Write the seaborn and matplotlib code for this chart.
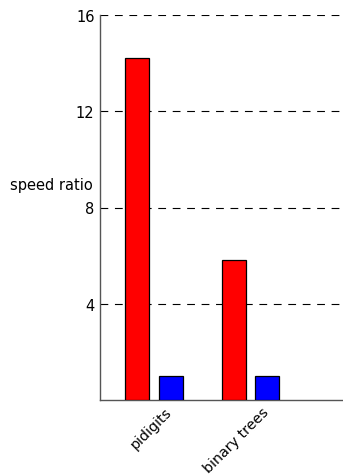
import pandas
import matplotlib
matplotlib.use("Agg")
import matplotlib.pyplot as plt
import matplotlib.transforms as mtrans
import seaborn as sns

# benchmark speed ratios
benchmarks = ["pidigits", "binary trees"]
series = ["fast", "baseline"]
fast_ratio = [14.2, 5.8]
base_ratio = [1.0, 1.0]
yticks = [4, 8, 12, 16]

rows = []
for i, b in enumerate(benchmarks):
    rows.append({"bench": b, "impl": series[0], "ratio": fast_ratio[i]})
    rows.append({"bench": b, "impl": series[1], "ratio": base_ratio[i]})
df = pandas.DataFrame(rows)

sns.set_style("white")
plt.rcParams['font.family'] = ['DejaVu Sans']

fig = plt.figure(figsize=(3.43, 4.77), dpi=100)
ax = fig.add_axes([100 / 343, 76 / 477, 243 / 343, 385 / 477])

sns.barplot(data=df, x="bench", y="ratio", hue="impl", ax=ax,
            palette=["#ff0000", "#0000ff"], saturation=1, width=0.7, gap=0.29,
            edgecolor="black", linewidth=0.9, legend=False, zorder=3)

ax.set_ylim(0, 16)
ax.set_xlim(-0.56, 1.96)
ax.set_yticks(yticks)
ax.yaxis.grid(True, color="black", linestyle=(0, (7, 6)), linewidth=0.8)
ax.set_axisbelow(True)
ax.tick_params(axis="both", length=0, labelsize=10.5, colors="black")
ax.tick_params(axis="y", pad=4)
ax.tick_params(axis="x", labelsize=10.3, pad=3)

for s in ["top", "right"]:
    ax.spines[s].set_visible(False)
for s in ["left", "bottom"]:
    ax.spines[s].set_color("#555555")
    ax.spines[s].set_linewidth(1.0)

ax.set_xlabel("")
ax.set_ylabel("speed ratio", rotation=0, ha="right", va="center",
              fontsize=10.5, color="black")
ax.yaxis.set_label_coords(-0.03, 0.561)

shift = mtrans.ScaledTranslation(11 / 100, 0, fig.dpi_scale_trans)
for lab in ax.get_xticklabels():
    lab.set_rotation(45)
    lab.set_ha("right")
    lab.set_va("top")
    lab.set_rotation_mode("anchor")
    lab.set_transform(lab.get_transform() + shift)

fig.savefig("out.png", dpi=100)
